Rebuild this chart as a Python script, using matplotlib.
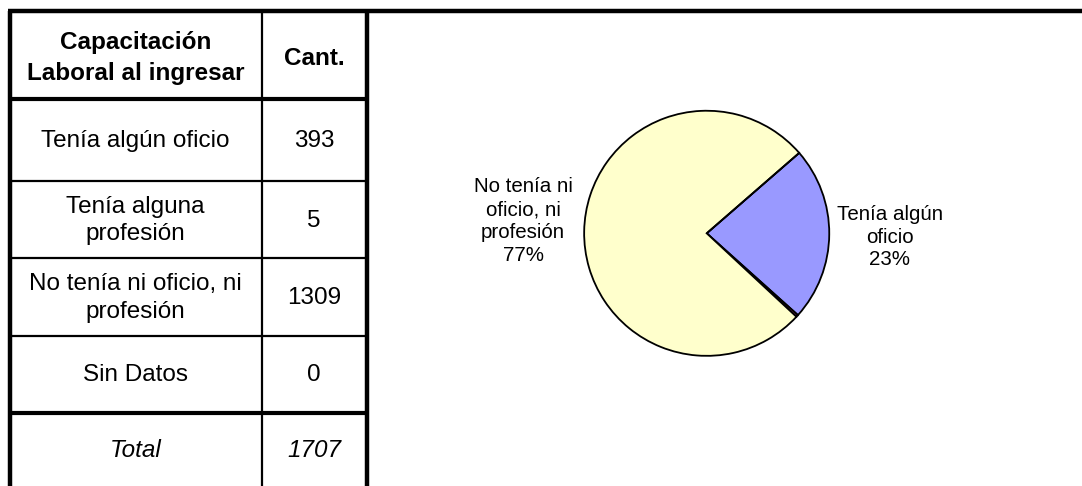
import matplotlib.pyplot as plt

# table data
row_labels = ["Tenía algún oficio", "Tenía alguna\nprofesión",
              "No tenía ni oficio, ni\nprofesión", "Sin Datos"]
counts = [393, 5, 1309, 0]
total_label = "Total"
header = ["Capacitación\nLaboral al ingresar", "Cant."]

# pie data (same order as table)
pie_colors = ["#9999FF", "#993366", "#FFFFCC", "#CCFFFF"]
pie_texts = ["Tenía algún\noficio", "", "No tenía ni\noficio, ni\nprofesión", ""]

W, H = 1082, 486
plt.rcParams['font.family'] = ['Liberation Sans', 'DejaVu Sans']
fig = plt.figure(figsize=(W / 100, H / 100), dpi=100)

# full-figure axes in pixel coords for the table
ax = fig.add_axes([0, 0, 1, 1])
ax.set_xlim(0, W)
ax.set_ylim(H, 0)
ax.axis("off")

x_left, x_mid, x_right = 9.5, 261.5, 366.5
row_edges = [11, 99.5, 181, 258, 336, 412.5, H]

# outer / thick lines
ax.plot([x_left - 2, W], [row_edges[0], row_edges[0]], color="black", lw=3.2, solid_capstyle="butt")
ax.plot([x_left, x_left], [row_edges[0], H], color="black", lw=3.2, solid_capstyle="butt")
ax.plot([x_right, x_right], [row_edges[0], H], color="black", lw=3.2, solid_capstyle="butt")
ax.plot([x_mid, x_mid], [row_edges[0], H], color="black", lw=1.6, solid_capstyle="butt")
for i, y in enumerate(row_edges[1:-1]):
    thick = i == 0 or i == len(row_edges) - 3
    ax.plot([x_left, x_right + 1.5], [y, y], color="black", lw=3.0 if thick else 1.6,
            solid_capstyle="butt")

c1 = (x_left + x_mid) / 2
c2 = (x_mid + x_right) / 2
fs = 17.5

ymid = (row_edges[0] + row_edges[1]) / 2 + 3
ax.text(c1, ymid, header[0], ha="center", va="center", fontsize=fs, fontweight="bold",
        linespacing=1.45)
ax.text(c2, ymid, header[1], ha="center", va="center", fontsize=fs, fontweight="bold")

for i, (lab, n) in enumerate(zip(row_labels, counts)):
    ymid = (row_edges[i + 1] + row_edges[i + 2]) / 2 + 1
    ax.text(c1, ymid, lab, ha="center", va="center", fontsize=fs, linespacing=1.3)
    ax.text(c2, ymid, str(n), ha="center", va="center", fontsize=fs)

ymid = (row_edges[5] + row_edges[6]) / 2 + 1
ax.text(c1, ymid, total_label, ha="center", va="center", fontsize=fs, style="italic")
ax.text(c2, ymid, str(sum(counts)), ha="center", va="center", fontsize=fs, style="italic")

# pie chart: centre (706.7, 233.3), radius ~125 px
cx, cy, r = 706.7, 233.3, 125
pax = fig.add_axes([(cx - r) / W, 1 - (cy + r) / H, 2 * r / W, 2 * r / H])
total = sum(counts)
wedges, _ = pax.pie(counts, colors=pie_colors, startangle=41, counterclock=False,
                    wedgeprops=dict(edgecolor="black", linewidth=1.3))
pax.set_aspect("equal")
pax.set_xlim(-1.02, 1.02)
pax.set_ylim(-1.02, 1.02)

# labels in pixel coords
label_pos = [(890, 237), None, (523, 221), None]
for txt, n, pos in zip(pie_texts, counts, label_pos):
    if pos is None:
        continue
    ax.text(pos[0], pos[1], f"{txt}\n{round(100 * n / total)}%", ha="center", va="center",
            fontsize=14.8, linespacing=1.25)

fig.savefig("out.png", dpi=100)
